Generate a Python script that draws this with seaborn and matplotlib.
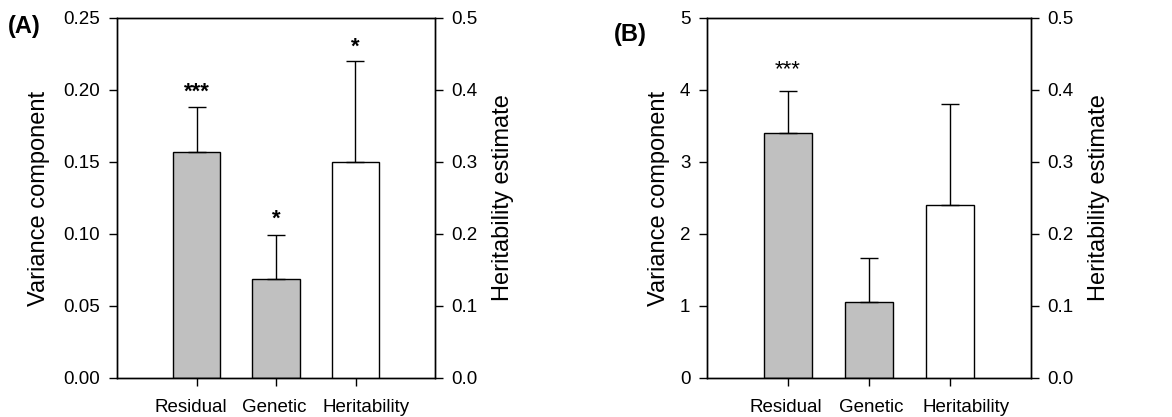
import matplotlib
matplotlib.use("Agg")
import matplotlib.pyplot as plt
import matplotlib.transforms as mtransforms
import seaborn as sns
import pandas as pd
import numpy as np

# ---- data ----
categories = ["Residual", "Genetic", "Heritability"]
var_cats = ["Residual", "Genetic"]

a_var_vals = [0.157, 0.0685]
a_var_err = [0.031, 0.031]
a_her_val = [0.30]
a_her_err = [0.14]
a_stars = ["***", "*", "*"]
a_star_y = [0.1985, 0.1105, 0.230]

b_var_vals = [3.40, 1.05]
b_var_err = [0.58, 0.61]
b_her_val = [0.24]
b_her_err = [0.14]
b_stars = ["***"]
b_star_y = [4.28]

a_left_ticks = [0.00, 0.05, 0.10, 0.15, 0.20, 0.25]
b_left_ticks = [0, 1, 2, 3, 4, 5]
right_ticks = [0.0, 0.1, 0.2, 0.3, 0.4, 0.5]

sns.set_style("ticks")
plt.rcParams["font.family"] = ["Liberation Sans", "DejaVu Sans"]
plt.rcParams["text.color"] = "black"
plt.rcParams["axes.labelcolor"] = "black"

fig = plt.figure(figsize=(11.72, 4.17), dpi=100)
W, H = 1172, 417

def make_axes(left_px, right_px):
    return fig.add_axes([left_px / W, 1 - 378 / H, (right_px - left_px) / W, (378 - 18) / H])

gray = "#c0c0c0"

def panel(ax, var_vals, var_err, her_val, her_err, left_ticks, left_fmt, stars, star_y,
          star_weight, panel_label, label_xy, left_pad, label_shift_px):
    ax2 = ax.twinx()
    dfv = pd.DataFrame({"cat": var_cats, "val": var_vals})
    dfh = pd.DataFrame({"cat": ["Heritability"], "val": her_val})
    sns.barplot(data=dfv, x="cat", y="val", order=categories, color=gray, saturation=1,
                edgecolor="black", linewidth=1.0, width=0.6, ax=ax, errorbar=None)
    sns.barplot(data=dfh, x="cat", y="val", order=categories, color="white", saturation=1,
                edgecolor="black", linewidth=1.0, width=0.6, ax=ax2, errorbar=None)
    pos = {c: i for i, c in enumerate(categories)}
    for c, v, e in zip(var_cats, var_vals, var_err):
        ax.errorbar(pos[c], v, yerr=[[0], [e]], fmt="none", ecolor="black", elinewidth=1.0,
                    capsize=6.5, capthick=1.0)
    ax2.errorbar(pos["Heritability"], her_val[0], yerr=[[0], [her_err[0]]], fmt="none",
                 ecolor="black", elinewidth=1.0, capsize=6.5, capthick=1.0)
    for i, (s, y) in enumerate(zip(stars, star_y)):
        ax.text(i, y, s, ha="center", va="center", fontsize=16, fontweight=star_weight,
                color="black")

    ax.set_ylim(left_ticks[0], left_ticks[-1])
    ax.set_yticks(left_ticks)
    ax.set_yticklabels([left_fmt.format(t) for t in left_ticks])
    ax2.set_ylim(0, 0.5)
    ax2.set_yticks(right_ticks)
    ax2.set_yticklabels(["{:.1f}".format(t) for t in right_ticks])
    ax.set_xlim(-1, 3)
    ax.set_xticks(range(3))
    ax.set_xticklabels(categories)
    ax.set_xlabel("")
    ax2.set_xlabel("")
    ax.set_ylabel("Variance component", fontsize=17, labelpad=left_pad, color="black")
    ax2.set_ylabel("Heritability estimate", fontsize=17, labelpad=10, color="black")
    for a in (ax, ax2):
        a.tick_params(axis="both", direction="out", length=6, width=1, color="black",
                      labelsize=13.5, pad=6, labelcolor="black")
        for sp in a.spines.values():
            sp.set_visible(True)
            sp.set_color("black")
            sp.set_linewidth(1.0)
    ax.tick_params(axis="x", pad=9)
    ax2.tick_params(axis="x", bottom=False, labelbottom=False)
    for lbl, dx in zip(ax.get_xticklabels(), label_shift_px):
        lbl.set_transform(lbl.get_transform() +
                          mtransforms.ScaledTranslation(dx / 100, 0, fig.dpi_scale_trans))
    fig.text(label_xy[0] / W, 1 - label_xy[1] / H, panel_label, fontsize=17,
             fontweight="bold", ha="left", va="center", color="black")

axA = make_axes(117, 435)
panel(axA, a_var_vals, a_var_err, a_her_val, a_her_err, a_left_ticks, "{:.2f}",
      a_stars, a_star_y, "bold", "(A)", (8, 26), 10, [-6, -1.5, 11])

axB = make_axes(707, 1031)
panel(axB, b_var_vals, b_var_err, b_her_val, b_her_err, b_left_ticks, "{:d}",
      b_stars, b_star_y, "normal", "(B)", (614, 34), 7, [-2, 2, 16])

fig.savefig("out.png", dpi=100)
